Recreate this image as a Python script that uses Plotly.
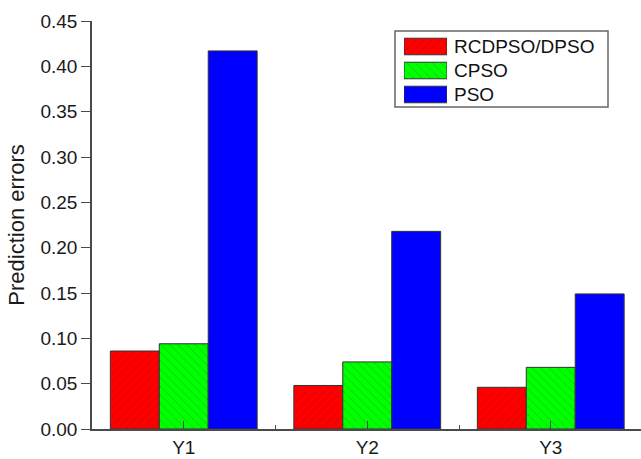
import plotly.graph_objects as go

# Data
categories = ["Y1", "Y2", "Y3"]
series_names = ["RCDPSO/DPSO", "CPSO", "PSO"]
rcdpso_dpso = [0.086, 0.048, 0.046]
cpso = [0.094, 0.074, 0.068]
pso = [0.417, 0.218, 0.149]
y_tick_values = [0.00, 0.05, 0.10, 0.15, 0.20, 0.25, 0.30, 0.35, 0.40, 0.45]

# Styles
W, H = 641, 459
M_L, M_R, M_T, M_B = 92, 0, 21, 30
FONT = "Liberation Sans, Arial, sans-serif"
AXIS_COLOR = "#4a4a4a"
styles = [
    dict(color="#ff0000", shape="/", fg="#8b0000"),
    dict(color="#00ff00", shape="\\", fg="#006400"),
    dict(color="#0000ff", shape="", fg="#000080"),
]
series_values = [rcdpso_dpso, cpso, pso]

x_pos = list(range(1, len(categories) + 1))
plot_w = W - M_L - M_R
px_per_cat = 183.5
x_range = [0.5, 0.5 + plot_w / px_per_cat]


def marker_for(style):
    return dict(
        color=style["color"],
        line=dict(color="#333333", width=1),
        pattern=dict(shape=style["shape"], fgcolor=style["fg"], fgopacity=0.5,
                     size=6, solidity=0.09, fillmode="overlay"),
    )


fig = go.Figure()
for name, vals, st in zip(series_names, series_values, styles):
    fig.add_trace(go.Bar(x=x_pos, y=vals, name=name, marker=marker_for(st),
                         showlegend=False))

# Legend built on an inset axis so the keys are wide hatched swatches
plot_h = H - M_T - M_B


def px_x(p):
    return (p - M_L) / plot_w


def px_y(p):
    return (H - M_B - p) / plot_h


for name, st in zip(series_names, styles):
    fig.add_trace(go.Bar(x=[1], y=[name], orientation="h", marker=marker_for(st),
                         width=0.69, xaxis="x2", yaxis="y2", showlegend=False,
                         hoverinfo="skip"))

row_centers = [46.5, 70.5, 94.5]
for name, yc in zip(series_names, row_centers):
    fig.add_annotation(text=name, x=px_x(452), y=px_y(yc), xref="paper", yref="paper",
                       xanchor="left", yanchor="middle", showarrow=False,
                       font=dict(family=FONT, size=19, color="#111111"))

fig.add_shape(type="rect", xref="paper", yref="paper",
              x0=px_x(395), x1=px_x(608), y0=px_y(107), y1=px_y(31),
              line=dict(color="#666666", width=1.5), fillcolor="rgba(0,0,0,0)")

fig.update_layout(
    width=W, height=H,
    margin=dict(l=M_L, r=M_R, t=M_T, b=M_B, pad=0),
    paper_bgcolor="white", plot_bgcolor="white",
    barmode="group", bargap=0.2, bargroupgap=0,
    font=dict(family=FONT, size=18, color="#1a1a1a"),
    xaxis=dict(
        range=x_range, tickmode="array", tickvals=x_pos, ticktext=categories,
        showline=True, linecolor=AXIS_COLOR, linewidth=1.5,
        ticks="inside", ticklen=8, tickwidth=1, tickcolor=AXIS_COLOR,
        minor=dict(tickvals=[p + 0.5 for p in x_pos], ticks="inside", ticklen=4,
                   tickwidth=1, tickcolor=AXIS_COLOR),
        showgrid=False, zeroline=False,
        tickfont=dict(size=19),
    ),
    yaxis=dict(
        range=[0, 0.45], tickmode="array", tickvals=y_tick_values,
        ticktext=[f"{v:.2f}" for v in y_tick_values],
        showline=True, linecolor=AXIS_COLOR, linewidth=1.5,
        ticks="outside", ticklen=9, tickwidth=1, tickcolor=AXIS_COLOR,
        showgrid=False, zeroline=False,
        tickfont=dict(size=19),
        title=dict(text="Prediction errors", font=dict(size=22), standoff=10),
    ),
    xaxis2=dict(domain=[px_x(404), px_x(447)], range=[0, 1], anchor="y2",
                visible=False, fixedrange=True),
    yaxis2=dict(domain=[px_y(106.5), px_y(34.5)], anchor="x2", visible=False,
                categoryorder="array", categoryarray=series_names[::-1],
                fixedrange=True),
)

fig.write_html("out.html")
